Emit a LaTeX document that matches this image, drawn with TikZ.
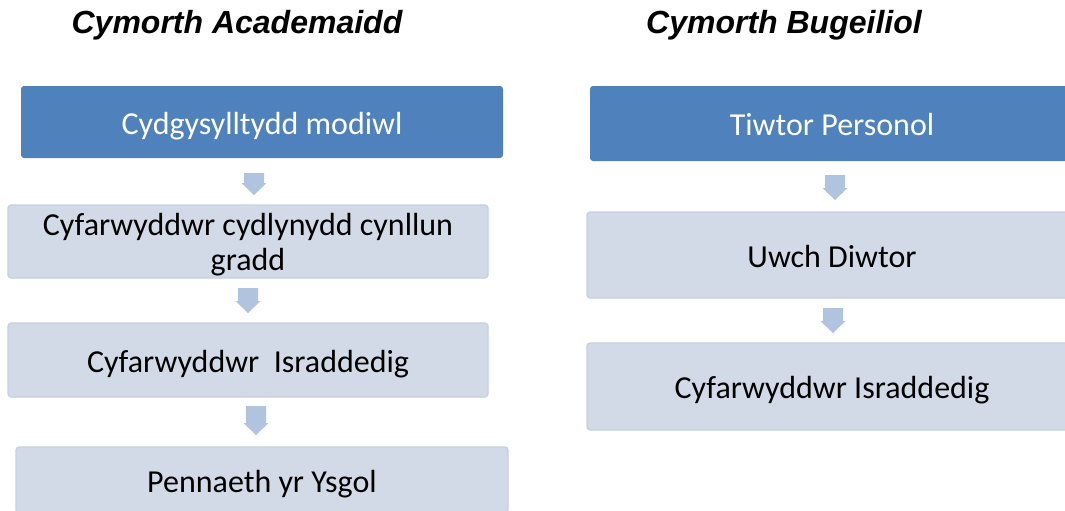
\documentclass[tikz,border=0pt]{standalone}
\usepackage{fontspec}
\setmainfont{Carlito}
\newfontfamily\titlefont{Liberation Sans}
\definecolor{topblue}{HTML}{4F81BD}
\definecolor{lightbox}{HTML}{D3DAE7}
\definecolor{lightedge}{HTML}{C6D0E0}
\definecolor{arrowblue}{HTML}{B0C3DF}
\tikzset{
  x=1pt, y=1pt,
  boxbase/.style={rectangle, rounded corners=3pt, align=center, inner sep=0pt,
    font=\fontsize{32}{35}\selectfont, text depth=0pt},
  oneline/.style={text height=24pt},
  topbox/.style={boxbase, oneline, fill=topblue, text=white},
  lowbox/.style={boxbase, fill=lightbox, draw=lightedge, line width=1.2pt, text=black},
  arrowfill/.style={fill=arrowblue},
  coltitle/.style={font=\titlefont\bfseries\itshape\fontsize{32}{36}\selectfont, inner sep=0pt}
}
% block arrow: centre x, top y, length
\newcommand\blockarrow[3]{%
  \fill[arrowfill] (#1-10,#2) -- (#1+10,#2) -- (#1+10,#2-#3+12) -- (#1+12.5,#2-#3+12)
    -- (#1,#2-#3) -- (#1-12.5,#2-#3+12) -- (#1-10,#2-#3+12) -- cycle;}
\begin{document}
\begin{tikzpicture}
\useasboundingbox (0,0) rectangle (1065,-511);
\clip (0,0) rectangle (1065,-511);
\fill[white] (0,0) rectangle (1065,-511);
% titles
\node[coltitle] (tA) at (237,-25) {Cymorth Academaidd};
\node[coltitle] (tB) at (784,-25) {Cymorth Bugeiliol};
% left column
\node[topbox, minimum width=482pt, minimum height=72pt] (l1) at (262,-122) {Cydgysylltydd modiwl};
\node[lowbox, minimum width=480pt, minimum height=73pt] (l2) at (248,-241.5) {Cyfarwyddwr cydlynydd cynllun\\gradd};
\node[lowbox, oneline, minimum width=480pt, minimum height=74pt] (l3) at (248,-360) {Cyfarwyddwr\ \ Israddedig};
\node[lowbox, oneline, minimum width=492pt, minimum height=66pt] (l4) at (262,-480) {Pennaeth yr Ysgol};
\blockarrow{254}{-173}{22}
\blockarrow{248}{-288}{25}
\blockarrow{256}{-406}{29}
% right column
\node[topbox, minimum width=484pt, minimum height=75pt] (r1) at (832,-123.5) {Tiwtor Personol};
\node[lowbox, oneline, minimum width=490pt, minimum height=86pt] (r2) at (832,-255) {Uwch Diwtor};
\node[lowbox, oneline, minimum width=490pt, minimum height=87pt] (r3) at (832,-386.5) {Cyfarwyddwr Israddedig};
\blockarrow{835}{-175}{25}
\blockarrow{833}{-308}{25}
\end{tikzpicture}
\end{document}
